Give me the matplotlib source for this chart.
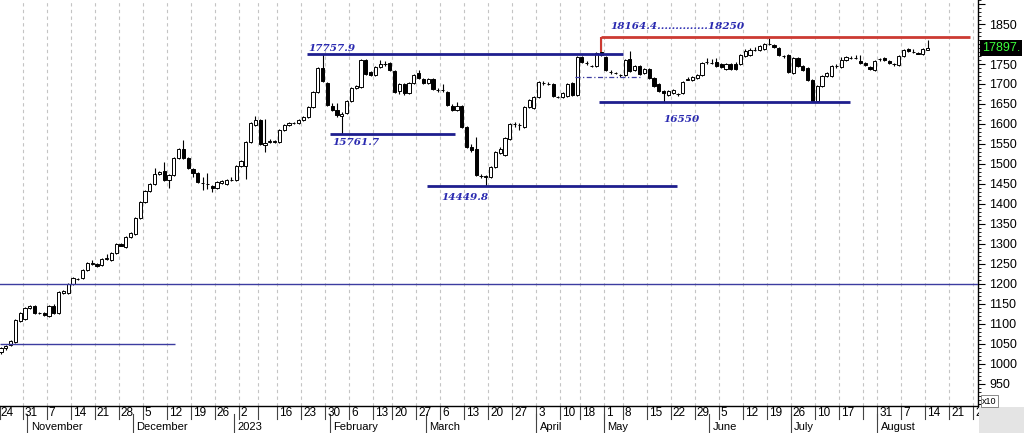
import numpy as np
import matplotlib.pyplot as plt
from matplotlib.patches import Rectangle
from matplotlib.ticker import FixedLocator, MultipleLocator, FuncFormatter
from matplotlib.transforms import blended_transform_factory

# daily candles, prices in axis units (chart shows them x10)
opens = [
    1030, 1040, 1048, 1055, 1108, 1112, 1140, 1145, 1128, 1127,
    1120, 1145, 1127, 1177, 1177, 1200, 1213, 1215, 1235, 1251,
    1250, 1247, 1262, 1260, 1277, 1300, 1292, 1317, 1325, 1365,
    1405, 1432, 1450, 1475, 1482, 1460, 1472, 1515, 1537, 1515,
    1487, 1477, 1453, 1451, 1445, 1440, 1452, 1450, 1459, 1460,
    1495, 1495, 1555, 1597, 1610, 1547, 1556, 1556, 1555, 1585,
    1597, 1602, 1602, 1610, 1617, 1642, 1680, 1740, 1702, 1645,
    1635, 1620, 1627, 1657, 1690, 1692, 1760, 1730, 1722, 1742,
    1750, 1752, 1732, 1682, 1700, 1677, 1702, 1727, 1712, 1702,
    1712, 1686, 1686, 1680, 1645, 1635, 1645, 1592, 1542, 1537,
    1471, 1470, 1467, 1492, 1527, 1522, 1562, 1600, 1598, 1592,
    1642, 1640, 1667, 1702, 1700, 1700, 1668, 1667, 1670, 1702,
    1672, 1767, 1752, 1746, 1745, 1780, 1767, 1731, 1728, 1723,
    1722, 1762, 1735, 1745, 1727, 1737, 1715, 1700, 1682, 1672,
    1677, 1676, 1677, 1711, 1710, 1715, 1722, 1755, 1752, 1755,
    1750, 1737, 1750, 1750, 1750, 1770, 1772, 1785, 1785, 1787,
    1800, 1797, 1790, 1770, 1772, 1727, 1765, 1745, 1740, 1710,
    1657, 1695, 1720, 1720, 1745, 1742, 1760, 1765, 1765, 1757,
    1752, 1742, 1735, 1762, 1765, 1757, 1750, 1747, 1770, 1787,
    1780, 1777, 1775, 1786,
]
highs = [
    1043, 1048, 1060, 1112, 1130, 1143, 1147, 1147, 1131, 1129,
    1147, 1150, 1182, 1184, 1202, 1217, 1216, 1237, 1254, 1260,
    1252, 1264, 1275, 1279, 1302, 1302, 1319, 1329, 1367, 1407,
    1434, 1452, 1490, 1483, 1505, 1475, 1517, 1540, 1560, 1517,
    1490, 1479, 1467, 1477, 1447, 1457, 1459, 1462, 1467, 1497,
    1509, 1557, 1604, 1620, 1612, 1612, 1562, 1560, 1587, 1599,
    1604, 1606, 1612, 1619, 1644, 1682, 1742, 1775.79, 1705, 1652,
    1652, 1630, 1659, 1692, 1697, 1762, 1762, 1732, 1744, 1760,
    1758, 1755, 1734, 1703, 1703, 1704, 1724, 1735, 1714, 1714,
    1714, 1690, 1700, 1682, 1650, 1654, 1647, 1594, 1550, 1567,
    1475, 1473, 1494, 1532, 1542, 1567, 1602, 1604, 1603, 1644,
    1662, 1669, 1707, 1707, 1704, 1702, 1671, 1679, 1702, 1704,
    1770, 1769, 1757, 1748, 1779, 1816.44, 1769, 1734, 1730, 1725,
    1762, 1782, 1747, 1747, 1739, 1739, 1717, 1702, 1684, 1684,
    1687, 1678, 1707, 1717, 1719, 1724, 1754, 1765, 1762, 1764,
    1752, 1752, 1752, 1755, 1774, 1787, 1790, 1793, 1798, 1803,
    1815, 1799, 1792, 1772, 1774, 1767, 1767, 1747, 1742, 1712,
    1697, 1722, 1729, 1747, 1750, 1767, 1769, 1770, 1772, 1772,
    1754, 1744, 1759, 1765, 1767, 1759, 1752, 1772, 1788, 1790,
    1787, 1779, 1789, 1810,
]
lows = [
    1025, 1036, 1045, 1052, 1105, 1110, 1137, 1125, 1124, 1120,
    1118, 1125, 1125, 1175, 1175, 1198, 1209, 1213, 1233, 1248,
    1243, 1245, 1259, 1258, 1275, 1294, 1290, 1315, 1323, 1363,
    1403, 1430, 1448, 1472, 1458, 1440, 1470, 1513, 1512, 1487,
    1467, 1452, 1435, 1438, 1430, 1438, 1450, 1448, 1457, 1458,
    1493, 1462, 1553, 1595, 1548, 1530, 1552, 1553, 1553, 1583,
    1595, 1600, 1600, 1608, 1615, 1640, 1678, 1705, 1645, 1633,
    1618, 1576.17, 1625, 1655, 1688, 1690, 1723, 1720, 1720, 1740,
    1745, 1732, 1678, 1675, 1672, 1675, 1700, 1713, 1700, 1700,
    1685, 1680, 1680, 1645, 1633, 1633, 1590, 1540, 1530, 1470,
    1465, 1444.98, 1465, 1490, 1525, 1520, 1560, 1593, 1585, 1590,
    1640, 1638, 1665, 1698, 1697, 1668, 1664, 1665, 1668, 1670,
    1670, 1753, 1748, 1742, 1743, 1770, 1733, 1726, 1725, 1717,
    1720, 1730, 1733, 1723, 1725, 1713, 1693, 1680, 1655, 1670,
    1675, 1670, 1675, 1709, 1708, 1713, 1720, 1750, 1749, 1743,
    1740, 1735, 1735, 1735, 1748, 1768, 1770, 1782, 1783, 1785,
    1797, 1790, 1770, 1765, 1728, 1725, 1743, 1733, 1708, 1655,
    1655, 1693, 1718, 1718, 1740, 1740, 1758, 1762, 1762, 1750,
    1745, 1735, 1733, 1758, 1758, 1750, 1745, 1745, 1768, 1780,
    1777, 1774, 1773, 1785,
]
closes = [
    1040, 1045, 1057, 1110, 1127, 1140, 1145, 1127, 1127, 1122,
    1145, 1127, 1180, 1182, 1200, 1215, 1212, 1235, 1252, 1252,
    1245, 1262, 1265, 1277, 1300, 1296, 1317, 1327, 1365, 1405,
    1432, 1450, 1475, 1480, 1460, 1472, 1515, 1537, 1515, 1490,
    1477, 1455, 1452, 1450, 1440, 1455, 1457, 1460, 1460, 1495,
    1507, 1555, 1602, 1610, 1550, 1552, 1557, 1557, 1585, 1597,
    1602, 1603, 1610, 1617, 1642, 1680, 1740, 1707, 1647, 1635,
    1622, 1625, 1657, 1690, 1695, 1760, 1725, 1722, 1742, 1750,
    1751, 1735, 1680, 1700, 1678, 1702, 1722, 1715, 1702, 1712,
    1687, 1685, 1685, 1647, 1635, 1645, 1592, 1542, 1535, 1472,
    1470, 1468, 1492, 1530, 1537, 1565, 1600, 1601, 1597, 1642,
    1660, 1667, 1705, 1703, 1701, 1670, 1667, 1677, 1700, 1672,
    1767, 1755, 1753, 1745, 1777, 1772, 1735, 1730, 1727, 1722,
    1760, 1732, 1745, 1725, 1737, 1715, 1695, 1682, 1677, 1682,
    1685, 1675, 1705, 1712, 1717, 1722, 1752, 1756, 1753, 1745,
    1742, 1750, 1737, 1737, 1772, 1782, 1785, 1786, 1795, 1800,
    1801, 1792, 1772, 1769, 1730, 1765, 1745, 1735, 1710, 1657,
    1695, 1720, 1727, 1745, 1746, 1760, 1767, 1766, 1766, 1752,
    1747, 1737, 1757, 1763, 1760, 1752, 1749, 1770, 1785, 1782,
    1779, 1776, 1787, 1789.7,
]
last_price = "17897."

# weekly date row: index of first candle of each week and its label
week_starts = [0, 5, 10, 15, 20, 25, 30, 35, 40, 45, 50, 54, 58, 63, 68, 73,
               78, 82, 87, 92, 97, 102, 107, 112, 117, 121, 126, 130, 135,
               140, 145, 150, 155, 160, 165, 170, 175, 180, 183, 188, 193,
               198, 203]
week_labels = ['24', '31', '7', '14', '21', '28', '5', '12', '19', '26', '2',
               '', '16', '23', '30', '6', '13', '20', '27', '6', '13', '20',
               '27', '3', '10', '18', '1', '8', '15', '22', '29', '5', '12',
               '19', '26', '10', '17', '', '31', '7', '14', '21', '28']
month_starts = [6, 28, 49, 69, 89, 112, 126, 148, 165, 183]
month_labels = ['November', 'December', '2023', 'February', 'March', 'April',
                'May', 'June', 'July', 'August']

# marked levels (real price)
high_feb = 17757.9
low_feb = 15761.7
low_mar = 14449.8
low_jun = 16550
high_may = 18164.4
target = 18250

plt.rcParams['font.family'] = ['Liberation Sans', 'DejaVu Sans']

W, H = 1024, 433
fig = plt.figure(figsize=(W / 100, H / 100), dpi=100)
ax = fig.add_axes([0, (H - 406) / H, 978 / W, 406 / H])

o = np.array(opens, float)
h = np.array(highs, float)
l = np.array(lows, float)
c = np.array(closes, float)
x = np.arange(len(o))
up = c >= o
bottom = np.minimum(o, c)
height = np.maximum(np.abs(c - o), 0.6)

ax.vlines(x, l, h, color='black', lw=0.8, zorder=3)
ax.bar(x[up], height[up], bottom=bottom[up], width=0.66, facecolor='white',
       edgecolor='black', lw=0.7, zorder=4)
ax.bar(x[~up], height[~up], bottom=bottom[~up], width=0.66, facecolor='black',
       edgecolor='black', lw=0.7, zorder=4)

x0, x1 = -0.2, 203.5
ax.set_xlim(x0, x1)
ax.set_ylim(895, 1910)

# weekly grid
for ws in week_starts:
    ax.axvline(ws - 0.5, color='#c4c4c4', lw=0.8, ls=(0, (3, 3)), zorder=1)

# drawn levels
navy = '#1e1e8e'
ax.hlines(1050, x0, 36.3, color='#3c3ca0', lw=1.0, zorder=5)
ax.axhline(1200, color='#3c3ca0', lw=1.0, zorder=5)
ax.hlines(high_feb / 10, 63.75, 129.6, color=navy, lw=2.0, zorder=5)
ax.hlines(low_feb / 10, 68.5, 94.6, color=navy, lw=2.0, zorder=5)
ax.hlines(low_mar / 10, 88.75, 140.8, color=navy, lw=2.0, zorder=5)
ax.hlines(low_jun / 10, 124.6, 176.9, color=navy, lw=2.0, zorder=5)
ax.hlines(high_may / 10, 125, 201.9, color='#cc3a32', lw=2.0, zorder=5)
ax.vlines(125, 1781, high_may / 10, color='#cc3a32', lw=1.5, zorder=5)
ax.hlines(1717.5, 119.6, 133.1, color='#3c3ca0', lw=0.9,
          ls=(0, (4, 2, 1, 2)), zorder=5)

tfont = dict(family='DejaVu Serif', weight='bold', style='italic',
             size=7.5, color='#2a2ab0', va='center', ha='left', zorder=6)
ax.text(63.96, 1788, f'{high_feb:.1f}', **tfont)
ax.text(68.96, 1554, f'{low_feb:.1f}', **tfont)
ax.text(91.67, 1416, f'{low_mar:.1f}', **tfont)
ax.text(137.9, 1610, f'{low_jun}', **tfont)
ax.text(126.9, 1843, f'{high_may:.1f}' + '.' * 14 + f'{target}', **tfont)

# price axis on the right (the 1800 label sits under the last-price box)
ax.yaxis.tick_right()
ax.yaxis.set_major_locator(FixedLocator(np.arange(900, 1901, 50)))
ax.yaxis.set_minor_locator(MultipleLocator(10))
ax.yaxis.set_major_formatter(FuncFormatter(
    lambda v, p: '' if v < 940 or v > 1860 or v == 1800 else f'{v:.0f}'))
ax.tick_params(axis='y', which='major', length=5, width=0.8, labelsize=9,
               pad=3, colors='black')
ax.tick_params(axis='y', which='minor', length=2.5, width=0.6)
ax.set_xticks([])
for s in ['top', 'left']:
    ax.spines[s].set_visible(False)
ax.spines['right'].set_linewidth(1.0)
ax.spines['bottom'].set_linewidth(1.0)

ax.text(1.004, c[-1], last_price, transform=blended_transform_factory(
    ax.transAxes, ax.transData), color='#3cff3c', fontsize=9, va='center',
    ha='left', zorder=10, clip_on=False,
    bbox=dict(boxstyle='square,pad=0.18', fc='black', ec='none'))

# date rows below the chart
tr = blended_transform_factory(ax.transData, fig.transFigure)
day_top, day_bot = (H - 406) / H, (H - 419) / H
for ws, lab in zip(week_starts, week_labels):
    xs = max(ws - 0.5, x0 + 0.05)
    ax.plot([xs, xs], [day_top, day_bot], transform=tr, color='#444444',
            lw=0.8, clip_on=False)
    ax.text(ws - 0.5 + 0.45, (H - 413.5) / H, lab, transform=tr, fontsize=8.5,
            ha='left', va='center', clip_on=False)
for ms, lab in zip(month_starts, month_labels):
    ax.plot([ms - 0.5, ms - 0.5], [(H - 414) / H, 0], transform=tr,
            color='#444444', lw=0.8, clip_on=False)
    ax.text(ms - 0.5 + 0.7, (H - 426.5) / H, lab, transform=tr, fontsize=8,
            ha='left', va='center', clip_on=False)

fig.patches.append(Rectangle((979 / W, 0), 1 - 979 / W, (H - 407) / H,
                             transform=fig.transFigure, fc='#e4e4e4',
                             ec='none', zorder=3))
fig.text(982 / W, (H - 401) / H, 'x10', fontsize=6.5, ha='left', va='center',
         zorder=4, bbox=dict(boxstyle='square,pad=0.12', fc='white',
                             ec='#777777', lw=0.6))

fig.savefig('out.png', dpi=100)
